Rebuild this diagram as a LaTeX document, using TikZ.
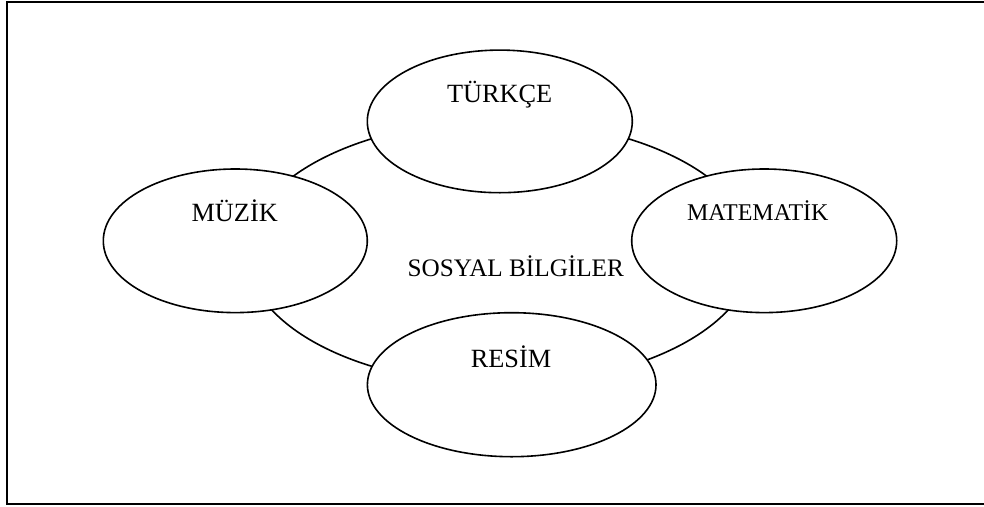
\documentclass[tikz,border=0pt]{standalone}
\usepackage{fontspec}
\setmainfont{Liberation Serif}
\usetikzlibrary{shapes.geometric}
\begin{document}
\begin{tikzpicture}[x=1pt,y=-1pt,
  frameline/.style={line width=2pt},
  ring/.style={draw, ellipse, line width=1.6pt, inner sep=0pt, outer sep=0pt, fill=white},
  lbl/.style={anchor=base, inner sep=0pt, font=\fontsize{26.3}{30}\selectfont},
  smalllbl/.style={anchor=base, inner sep=0pt, font=\fontsize{24}{28}\selectfont}
]
\useasboundingbox (0,0) rectangle (984,506);
\coordinate (ftr) at (990,1.5);
\coordinate (ftl) at (7,1.5);
\coordinate (fbl) at (7,503.5);
\coordinate (fbr) at (990,503.5);
\draw[frameline] (ftr) -- (ftl) -- (fbl) -- (fbr);

\node[ring, minimum width=506.8pt, minimum height=263.8pt] (sosyal) at (500,252.5) {};
\node[ring, minimum width=265pt, minimum height=142.6pt] (turkce) at (499.8,121.4) {};
\node[ring, minimum width=288.6pt, minimum height=144pt] (resim) at (511.7,384.7) {};
\node[ring, minimum width=264pt, minimum height=143.6pt] (muzik) at (235.3,240.8) {};
\node[ring, minimum width=265pt, minimum height=143.6pt] (matematik) at (764.2,240.8) {};

\node[lbl] (tturkce) at (499.7,102.3) {TÜRKÇE};
\node[lbl] (tmuzik) at (234.7,221.7) {MÜZİK};
\node[smalllbl] (tmatematik) at (757.8,220.7) {MATEMATİK};
\node[lbl] (tresim) at (511,367.7) {RESİM};
\node[anchor=base, inner sep=0pt, font=\fontsize{25.2}{29}\selectfont] (tsosyal) at (515.8,276.7) {SOSYAL BİLGİLER};
\end{tikzpicture}
\end{document}
